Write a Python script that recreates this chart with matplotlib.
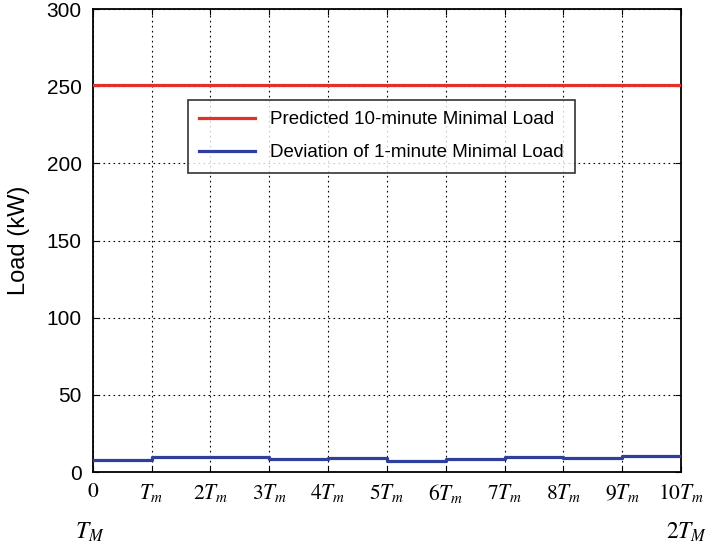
import numpy as np
import matplotlib
matplotlib.use('Agg')
import matplotlib.pyplot as plt

plt.rcParams['font.family'] = ['Liberation Sans', 'DejaVu Sans']
plt.rcParams['mathtext.fontset'] = 'stix'

# segment edges in units of T_m
edges = np.arange(0, 11)
predicted = [251] * 11
# 1-minute deviation, one value per T_m interval
deviation = [7.6, 9.7, 9.7, 8.4, 9.1, 7.4, 8.2, 10.0, 9.3, 10.2]
xticklabels = ['0', '$T_m$', '$2T_m$', '$3T_m$', '$4T_m$', '$5T_m$',
               '$6T_m$', '$7T_m$', '$8T_m$', '$9T_m$', '$10T_m$']
yticks = [0, 50, 100, 150, 200, 250, 300]

fig = plt.figure(figsize=(7.08, 5.47), dpi=100)
ax = fig.add_axes([0.131, 0.137, 0.831, 0.8465])

ax.plot(edges, predicted, color='#e2312b', lw=2.3,
        label='Predicted 10-minute Minimal Load', zorder=3)
ax.step(edges, deviation + [deviation[-1]], where='post', color='#2e3f9c', lw=2.3,
        label='Deviation of 1-minute Minimal Load', zorder=3)

ax.set_xlim(0, 10)
ax.set_ylim(0, 300)
ax.set_xticks(edges)
ax.set_xticklabels(xticklabels, fontsize=15.5, family='STIXGeneral')
ax.set_yticks(yticks)
ax.tick_params(axis='y', labelsize=15, pad=8)
ax.tick_params(direction='in', top=True, right=True, length=4, width=0.8)
ax.tick_params(axis='x', pad=7)
ax.grid(True, color='black', linestyle=(0, (1.5, 3)), lw=0.8)
for s in ax.spines.values():
    s.set_linewidth(1.3)

ax.set_ylabel('Load (kW)', fontsize=17, labelpad=12)

ax.text(-0.005, -0.13, '$T_M$', transform=ax.transAxes, fontsize=17,
        ha='center', va='center')
ax.text(1.044, -0.13, '$2T_M$', transform=ax.transAxes, fontsize=17,
        ha='right', va='center')

leg = ax.legend(loc='upper left', bbox_to_anchor=(0.1616, 0.8035), fontsize=13.5,
                frameon=True, fancybox=False, edgecolor='black',
                handlelength=3.0, borderpad=0.6, labelspacing=0.85,
                handletextpad=0.8, borderaxespad=0)
leg.get_frame().set_linewidth(1.2)

fig.savefig('out.png', dpi=100)
